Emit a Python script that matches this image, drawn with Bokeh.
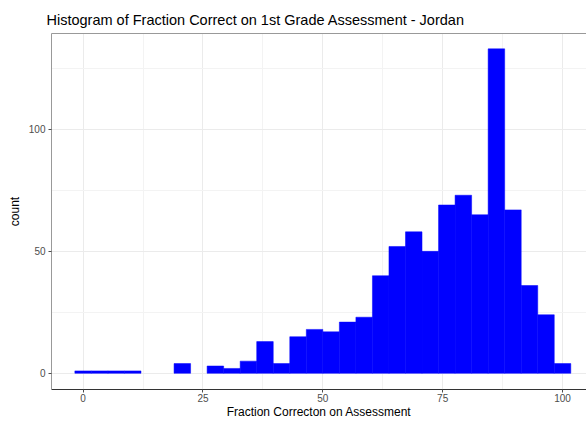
from bokeh.plotting import figure
from bokeh.models import FixedTicker, ColumnDataSource, LinearAxis
from bokeh.embed import file_html
from bokeh.resources import INLINE

# Histogram data (30 bins, width 100/29, centred on 0 ... 100)
bin_width = 100 / 29
counts = [1, 1, 1, 1, 0, 0, 4, 0, 3, 2,
          5, 13, 4, 15, 18, 17, 21, 23, 40, 52,
          58, 50, 69, 73, 65, 133, 67, 36, 24, 4]
x_ticks = [0, 25, 50, 75, 100]
y_ticks = [0, 50, 100]

centers = [i * bin_width for i, c in enumerate(counts) if c > 0]
tops = [c for c in counts if c > 0]
src = ColumnDataSource(dict(
    left=[c - bin_width / 2 for c in centers],
    right=[c + bin_width / 2 for c in centers],
    top=tops,
    bottom=[0] * len(tops),
))

FONT = "Liberation Sans"

p = figure(width=586, height=421, output_backend="svg", toolbar_location=None,
           x_range=(-6.6, 105.0), y_range=(-6.63, 139.3),
           min_border_left=51, min_border_right=0, min_border_bottom=0,
           min_border_top=33)

p.title.text = "Histogram of Fraction Correct on 1st Grade Assessment - Jordan"
p.title.text_font = FONT
p.title.text_font_size = "14.5px"
p.title.text_font_style = "normal"
p.title.text_color = "black"
p.title.offset = -5
p.title.standoff = 11

p.quad(left="left", right="right", top="top", bottom="bottom", source=src,
       fill_color="#0000ff", line_color="#0000ff", line_width=0.5)

p.xaxis.ticker = FixedTicker(ticks=x_ticks, minor_ticks=[-12.5, 12.5, 37.5, 62.5, 87.5, 112.5])
p.yaxis.ticker = FixedTicker(ticks=y_ticks, minor_ticks=[25, 75, 125])

p.xaxis.axis_label = "Fraction Correcton on Assessment"
p.yaxis.axis_label = "count"
for ax in (p.xaxis, p.yaxis):
    ax.axis_label_text_font = FONT
    ax.axis_label_text_font_size = "12px"
    ax.axis_label_text_font_style = "normal"
    ax.axis_label_text_color = "black"
    ax.major_label_text_font = FONT
    ax.major_label_text_font_size = "10px"
    ax.major_label_text_color = "#4d4d4d"
    ax.major_tick_line_color = "#4d4d4d"
    ax.major_tick_in = 0
    ax.major_tick_out = 3
    ax.minor_tick_line_color = None
    ax.major_label_standoff = 0
    ax.axis_label_standoff = 0

p.yaxis.major_label_standoff = 2
p.yaxis.axis_label_standoff = 4

p.xaxis.axis_line_color = "#333333"
p.yaxis.axis_line_color = "#999999"

# top border of the panel (the right edge runs past the window)
top_line = LinearAxis(ticker=FixedTicker(ticks=[]), axis_line_color="#999999",
                      major_tick_line_color=None, minor_tick_line_color=None,
                      major_tick_out=0, major_label_text_font_size="0px")
p.add_layout(top_line, "above")

p.outline_line_color = None

p.xgrid.grid_line_color = "#ebebeb"
p.ygrid.grid_line_color = "#ebebeb"
p.xgrid.minor_grid_line_color = "#f3f3f3"
p.ygrid.minor_grid_line_color = "#f3f3f3"

p.background_fill_color = "white"
p.border_fill_color = "white"

open("out.html", "w").write(file_html(p, INLINE))
